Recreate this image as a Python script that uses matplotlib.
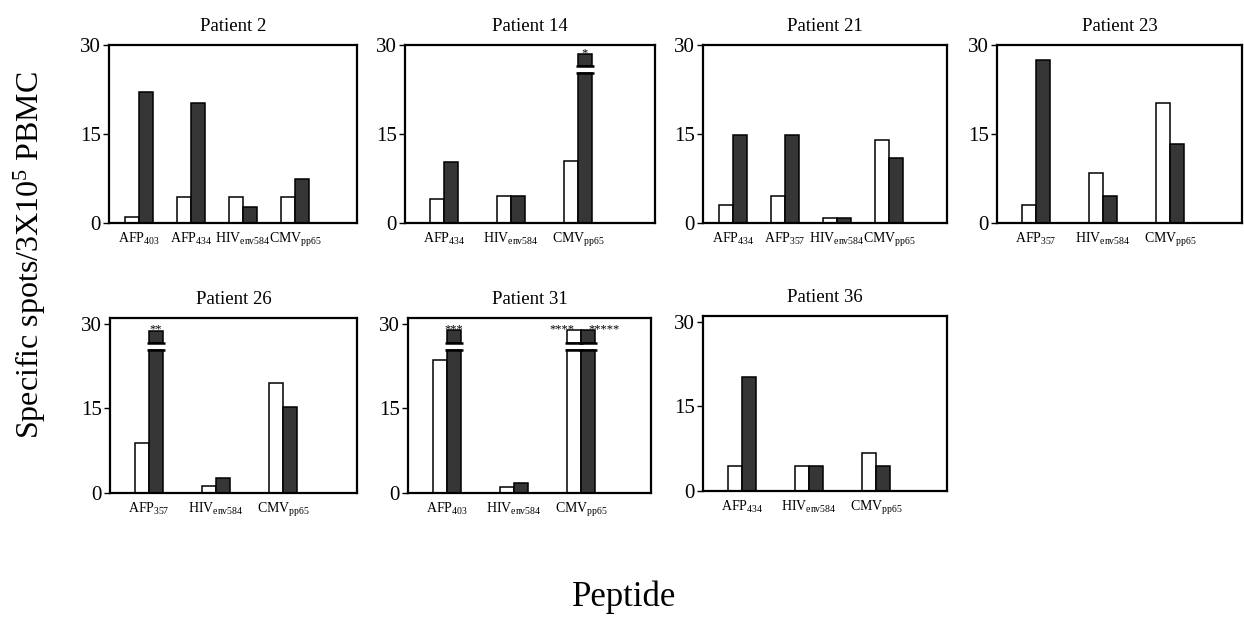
import numpy as np
import matplotlib
matplotlib.use('Agg')
import matplotlib.pyplot as plt

plt.rcParams['font.family'] = ['Liberation Serif', 'DejaVu Serif']
plt.rcParams['mathtext.default'] = 'regular'

# values
patients = ['Patient 2', 'Patient 14', 'Patient 21', 'Patient 23',
            'Patient 26', 'Patient 31', 'Patient 36']
peptides = [
    ['AFP$_{403}$', 'AFP$_{434}$', 'HIV$_{env584}$', 'CMV$_{pp65}$'],
    ['AFP$_{434}$', 'HIV$_{env584}$', 'CMV$_{pp65}$'],
    ['AFP$_{434}$', 'AFP$_{357}$', 'HIV$_{env584}$', 'CMV$_{pp65}$'],
    ['AFP$_{357}$', 'HIV$_{env584}$', 'CMV$_{pp65}$'],
    ['AFP$_{357}$', 'HIV$_{env584}$', 'CMV$_{pp65}$'],
    ['AFP$_{403}$', 'HIV$_{env584}$', 'CMV$_{pp65}$'],
    ['AFP$_{434}$', 'HIV$_{env584}$', 'CMV$_{pp65}$'],
]
white_vals = [
    [1.0, 4.3, 4.4, 4.4],
    [4.0, 4.5, 10.5],
    [3.0, 4.5, 0.9, 14.0],
    [3.1, 8.5, 20.2],
    [8.8, 1.3, 19.5],
    [23.5, 1.0, 28.8],
    [4.4, 4.4, 6.8],
]
dark_vals = [
    [22.0, 20.2, 2.7, 7.5],
    [10.3, 4.5, 28.4],
    [14.8, 14.8, 0.9, 11.0],
    [27.4, 4.5, 13.3],
    [28.7, 2.7, 15.3],
    [28.8, 1.8, 28.8],
    [20.2, 4.4, 4.4],
]
# bars drawn with an axis break
white_broken = [[0, 0, 0, 0], [0, 0, 0], [0, 0, 0, 0], [0, 0, 0],
                [0, 0, 0], [0, 0, 1], [0, 0, 0]]
dark_broken = [[0, 0, 0, 0], [0, 0, 1], [0, 0, 0, 0], [0, 0, 0],
               [1, 0, 0], [1, 0, 1], [0, 0, 0]]
white_stars = [['', '', '', ''], ['', '', ''], ['', '', '', ''], ['', '', ''],
               ['', '', ''], ['', '', '****'], ['', '', '']]
dark_stars = [['', '', '', ''], ['', '', '*'], ['', '', '', ''], ['', '', ''],
              ['**', '', ''], ['***', '', '*****'], ['', '', '']]

break_lo, break_hi = 25.3, 26.5

W, H = 1244, 625
fig = plt.figure(figsize=(W / 100, H / 100), dpi=100)

# axes boxes in pixels: left, top, width, height
boxes = [(109, 45, 248, 178), (405, 45, 250, 178), (703, 45, 244, 178),
         (997, 45, 245, 178), (110, 318, 247, 175), (408, 318, 243, 175),
         (703, 316, 244, 175)]

for i, name in enumerate(patients):
    l, t, w, h = boxes[i]
    ax = fig.add_axes([l / W, 1 - (t + h) / H, w / W, h / H])
    n = len(peptides[i])
    sp = 52.0 if n == 4 else 67.0
    first = 30.0 if n == 4 else 39.0
    x = np.arange(n)
    bw = 14.0 / sp
    ax.set_xlim(-first / sp, (w - first) / sp)
    ax.set_ylim(0, 30 if i < 4 else 31)

    for j in range(n):
        for k, (vals, brk, fc, stars) in enumerate([
                (white_vals, white_broken, 'white', white_stars),
                (dark_vals, dark_broken, '#363636', dark_stars)]):
            xc = x[j] + (k - 0.5) * bw
            v = vals[i][j]
            if brk[i][j]:
                ax.bar(xc, break_lo, bw, color=fc, edgecolor='black', lw=1.1)
                ax.bar(xc, v - break_hi, bw, bottom=break_hi, color=fc,
                       edgecolor='black', lw=1.1)
                for yy in (break_lo, break_hi):
                    ax.plot([xc - bw * 0.65, xc + bw * 0.65], [yy, yy],
                            color='black', lw=1.8, solid_capstyle='butt')
            else:
                ax.bar(xc, v, bw, color=fc, edgecolor='black', lw=1.1)
            s = stars[i][j]
            if s:
                both = white_stars[i][j] and dark_stars[i][j]
                ha = 'center'
                if both:
                    ha = 'right' if k == 0 else 'left'
                ax.text(xc, v + 0.25, s, ha=ha, va='center', fontsize=9,
                        clip_on=False)

    ax.set_xticks(x)
    ax.set_xticklabels(peptides[i], fontsize=10)
    ax.tick_params(axis='x', length=0, pad=6)
    ax.set_yticks([0, 15, 30])
    ax.tick_params(axis='y', labelsize=15, length=4, width=1, pad=2)
    for sp_ in ax.spines.values():
        sp_.set_linewidth(1.6)
    ax.set_title(name, fontsize=13.5, pad=10)

fig.text(0.024, 0.592, 'Specific spots/3X10$^{5}$ PBMC', rotation=90,
         ha='center', va='center', fontsize=23)
fig.text(0.502, 0.045, 'Peptide', ha='center', va='center', fontsize=25)

plt.savefig('out.png', dpi=100)
